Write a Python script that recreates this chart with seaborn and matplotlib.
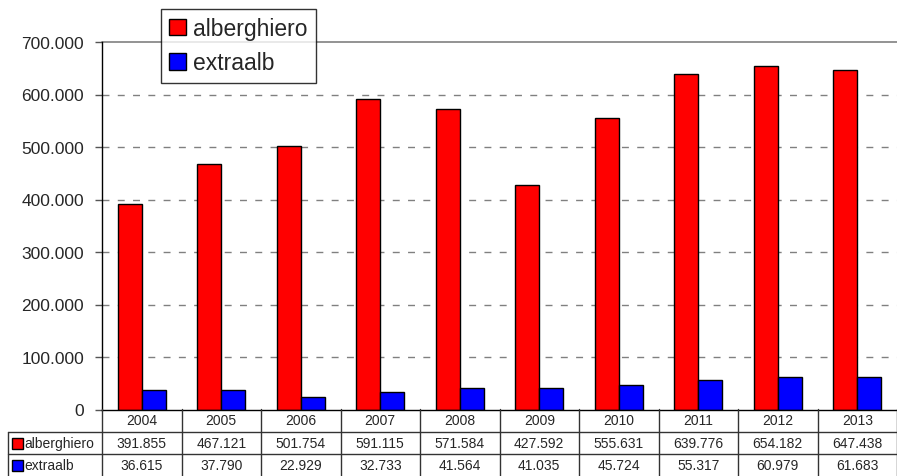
import numpy as np
import pandas as pd
import matplotlib.pyplot as plt
import matplotlib.transforms as mtransforms
from matplotlib.lines import Line2D
from matplotlib.patches import Rectangle
import seaborn as sns

sns.set_style('white')
plt.rcParams['font.family'] = ['Liberation Sans', 'DejaVu Sans']

years = ['2004', '2005', '2006', '2007', '2008', '2009', '2010', '2011', '2012', '2013']
alberghiero = [391855, 467121, 501754, 591115, 571584, 427592, 555631, 639776, 654182, 647438]
extraalb = [36615, 37790, 22929, 32733, 41564, 41035, 45724, 55317, 60979, 61683]
series = ['alberghiero', 'extraalb']
colors = ['#ff0000', '#0000ff']
yticks = [0, 100000, 200000, 300000, 400000, 500000, 600000, 700000]

def fmt(v):
	return f'{v:,.0f}'.replace(',', '.')

df = pd.DataFrame({'anno': years, 'alberghiero': alberghiero, 'extraalb': extraalb})
long = df.melt(id_vars='anno', var_name='serie', value_name='valore')

W, H = 897, 477
fig = plt.figure(figsize=(W / 100, H / 100), dpi=100)
ax = fig.add_axes([102 / W, 1 - 410.5 / H, 1 - 102 / W, (410.5 - 43) / H])

sns.barplot(data=long, x='anno', y='valore', hue='serie', palette=colors, width=0.6,
	edgecolor='black', linewidth=1, saturation=1, legend=False, ax=ax)

ax.set_xlim(-0.5, len(years) - 0.5)
ax.set_ylim(0, 700000)
ax.set_yticks(yticks)
ax.set_yticklabels([fmt(v) for v in yticks], fontsize=12.5)
ax.set_xticks([])
ax.set_xlabel('')
ax.set_ylabel('')
for v in yticks[1:-1]:
	ax.axhline(v, color='#808080', lw=1, ls=(0, (5, 6)), zorder=0)
ax.axhline(700000, color='#808080', lw=1.2, zorder=0, clip_on=False)
ax.tick_params(axis='y', left=True, length=5, width=1, color='#555555', pad=8)
for s in ['top', 'right']:
	ax.spines[s].set_visible(False)
for s in ['left', 'bottom']:
	ax.spines[s].set_color('black')
	ax.spines[s].set_linewidth(1)

# legend
handles = [Rectangle((0, 0), 1, 1, facecolor=c, edgecolor='black', lw=1) for c in colors]
leg = fig.legend(handles, series, loc='upper left', bbox_to_anchor=(161 / W, 1 - 10 / H),
	fontsize=16.5, frameon=True, fancybox=False, handlelength=0.75, handleheight=0.75,
	handletextpad=0.3, borderpad=0.35, labelspacing=0.5, borderaxespad=0)
leg.get_frame().set_edgecolor('black')
leg.get_frame().set_linewidth(1)
leg.set_zorder(10)

# data table below the chart
px = mtransforms.Affine2D().scale(1 / W, -1 / H).translate(0, 1) + fig.transFigure
bt = mtransforms.blended_transform_factory(ax.transData, px)
lc = '#333333'
rows = [(433, 455), (455, 478)]
n = len(years)
for i in range(n + 1):
	fig.add_artist(Line2D([i - 0.5, i - 0.5], [410, 478], transform=bt, color=lc, lw=1, clip_on=False))
fig.add_artist(Line2D([8, W], [433, 433], transform=px, color=lc, lw=1))
fig.add_artist(Line2D([8, W], [455, 455], transform=px, color=lc, lw=1))
fig.add_artist(Line2D([8, 8], [433, 478], transform=px, color=lc, lw=1))

for i, y in enumerate(years):
	fig.text(i, 421.5, y, transform=bt, ha='center', va='center', fontsize=10)
for (y0, y1), name, vals, c in zip(rows, series, [alberghiero, extraalb], colors):
	yc = (y0 + y1) / 2
	fig.add_artist(Rectangle((12, yc - 5.5), 11, 11, transform=px, facecolor=c, edgecolor='black', lw=1))
	fig.text(24, yc, name, transform=px, ha='left', va='center', fontsize=10)
	for i, v in enumerate(vals):
		fig.text(i, yc, fmt(v), transform=bt, ha='center', va='center', fontsize=10)

fig.savefig('out.png', dpi=100)
